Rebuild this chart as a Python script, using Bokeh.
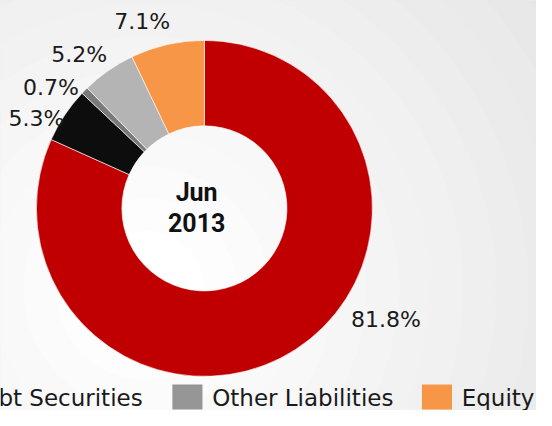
import numpy as np
from bokeh.plotting import figure
from bokeh.models import Range1d, ColumnDataSource
from bokeh.core.properties import value
from bokeh.embed import file_html
from bokeh.resources import INLINE

# ---------------- data ----------------
categories = ["Deposits", "Borrowings", "Debt Securities", "Other Liabilities", "Equity"]
shares = [81.8, 5.3, 0.7, 5.2, 7.1]
share_labels = ["81.8%", "5.3%", "0.7%", "5.2%", "7.1%"]
center_title = ["Jun", "2013"]

# ---------------- style / layout ----------------
slice_colors = ["#c00000", "#0d0d0d", "#7a7a7a", "#b4b4b4", "#f79646"]
legend_colors = ["#c00000", "#000000", "#7f7f7f", "#969696", "#f79646"]
FONT = "DejaVu Sans"

IMG_W, IMG_H = 552, 426
def Y(img_y):
    # picture row -> data y (y axis points up)
    return IMG_H - img_y

CX, CY = 210, Y(216)
R_IN, R_OUT = 85, 173
label_pos = [(397, 331), (37, 123), (52, 90), (81, 56), (146, 22)]
# the legend row is wider than the chart; only its right part is in view
legend_first = 2
legend_left = [-76, 177, 434]
SQ_W, SQ_TOP, SQ_BOT = 31, 399, 425

p = figure(width=536, height=410,
           x_range=Range1d(0, IMG_W), y_range=Range1d(0, IMG_H),
           output_backend="svg", toolbar_location=None, min_border=0,
           x_axis_location=None, y_axis_location=None)
p.grid.visible = False
p.outline_line_color = None
p.background_fill_color = "#e5e5e5"
p.border_fill_color = "#e5e5e5"

# soft radial background
bg_r = np.linspace(560, 60, 16)
bg_g = np.linspace(229, 255, 16).astype(int)
bg_c = ["#%02x%02x%02x" % (g, g, g) for g in bg_g]
p.circle(x=[150] * len(bg_r), y=[Y(300)] * len(bg_r), radius=bg_r,
         fill_color=bg_c, line_color=None)

# donut
fr = np.array(shares) / sum(shares)
end_cw = np.cumsum(fr) * 2 * np.pi
start_cw = end_cw - fr * 2 * np.pi
src = ColumnDataSource(dict(
    cat=categories, share=shares, color=slice_colors,
    start=np.pi / 2 - start_cw, end=np.pi / 2 - end_cw,
))
p.annular_wedge(x=CX, y=CY, inner_radius=R_IN, outer_radius=R_OUT,
                start_angle="start", end_angle="end", direction="clock",
                fill_color="color", line_color="white", line_width=0.6,
                source=src)

# percentage labels
p.text(x=[q[0] for q in label_pos], y=[Y(q[1]) for q in label_pos],
       text=share_labels, text_font=value(FONT), text_font_size="22px",
       text_color="#1a1a1a", text_align="center", text_baseline="middle")

# centre title
p.text(x=[202, 202], y=[Y(200), Y(231)], text=center_title,
       text_font=value("Roboto"), text_font_style="bold",
       text_font_size="25px", text_color="#111111",
       text_align="center", text_baseline="middle")

# legend row
names = categories[legend_first:]
cols = legend_colors[legend_first:]
n = len(names)
lsrc = ColumnDataSource(dict(
    left=legend_left, right=[l + SQ_W for l in legend_left],
    top=[Y(SQ_TOP)] * n, bottom=[Y(SQ_BOT)] * n,
    color=cols, tx=[l + SQ_W + 10 for l in legend_left],
    ty=[Y(413)] * n, name=names,
))
p.quad(left="left", right="right", top="top", bottom="bottom",
       fill_color="color", line_color=None, source=lsrc)
p.text(x="tx", y="ty", text="name", source=lsrc, text_font=value(FONT),
       text_font_size="23px", text_color="#1a1a1a",
       text_align="left", text_baseline="middle")

open("out.html", "w").write(file_html(p, INLINE))
